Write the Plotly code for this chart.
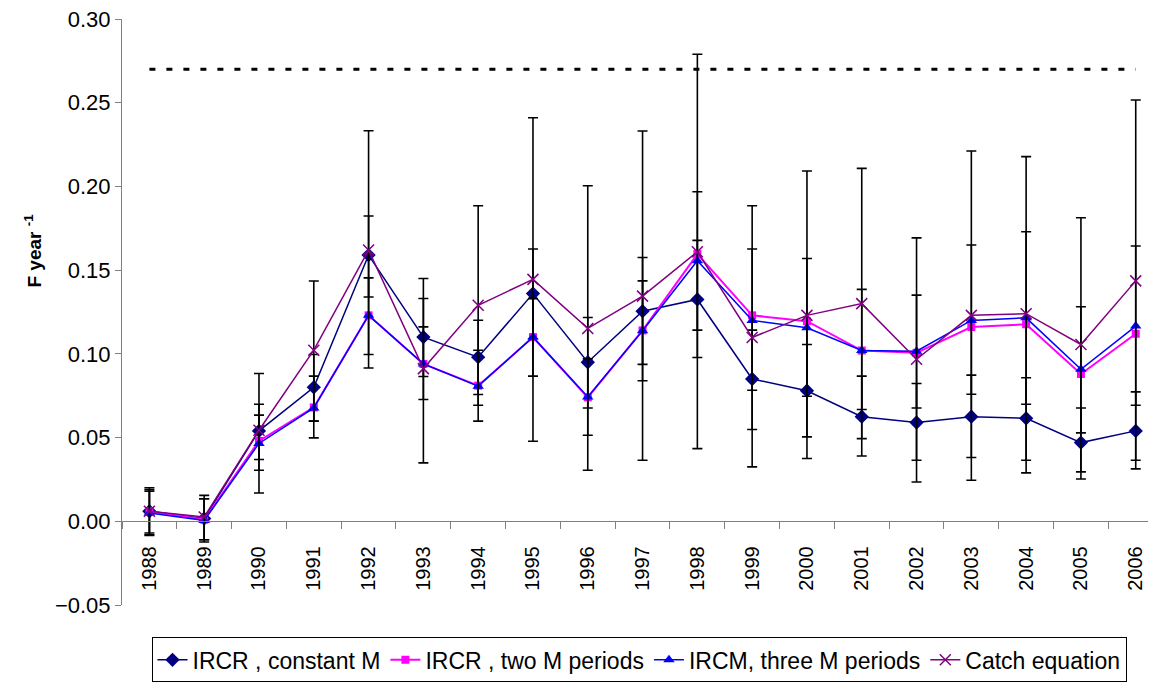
import numpy as np
import plotly.graph_objects as go

# years on the x axis (category axis)
years = [str(y) for y in range(1988, 2007)]

# F estimates for the four methods
f_const = [0.006, 0.0016, 0.054, 0.080, 0.159, 0.110, 0.098, 0.136, 0.095, 0.1255,
           0.1325, 0.085, 0.078, 0.0625, 0.059, 0.0625, 0.0615, 0.047, 0.054]
f_two = [0.006, 0.001, 0.048, 0.068, 0.123, 0.094, 0.081, 0.110, 0.074, 0.114,
         0.1596, 0.123, 0.1195, 0.102, 0.1006, 0.116, 0.1177, 0.088, 0.112]
f_three = [0.005, 0.0005, 0.0465, 0.0677, 0.123, 0.094, 0.0807, 0.110, 0.0743, 0.1138,
           0.1556, 0.120, 0.1156, 0.102, 0.1016, 0.120, 0.1215, 0.0908, 0.1166]
f_catch = [0.006, 0.0026, 0.0544, 0.1022, 0.162, 0.0912, 0.129, 0.1445, 0.1152, 0.1345,
           0.161, 0.1098, 0.123, 0.130, 0.0968, 0.123, 0.124, 0.1056, 0.1436]

# confidence limits (upper / lower)
hi_const = [0.019, 0.0135, 0.0699, 0.0996, 0.1823, 0.1331, 0.1201, 0.1626, 0.1217, 0.1576,
            0.1678, 0.1142, 0.1056, 0.0867, 0.0823, 0.0873, 0.0857, 0.0677, 0.0773]
lo_const = [-0.008, -0.011, 0.0369, 0.0598, 0.134, 0.0865, 0.0757, 0.109, 0.0677, 0.0937,
            0.0978, 0.0548, 0.0504, 0.039, 0.0365, 0.0381, 0.0365, 0.0253, 0.0313]
hi_three = [0.018, 0.0135, 0.0634, 0.0867, 0.1454, 0.1161, 0.1022, 0.133, 0.097, 0.1436,
            0.1968, 0.1626, 0.157, 0.1385, 0.1351, 0.165, 0.1729, 0.1281, 0.1644]
lo_three = [-0.007, -0.0124, 0.0305, 0.0498, 0.0996, 0.0727, 0.0598, 0.0867, 0.0514, 0.0839,
            0.1142, 0.0783, 0.0747, 0.0668, 0.0677, 0.0759, 0.0699, 0.0528, 0.0693]
hi_catch = [0.020, 0.0155, 0.0883, 0.1435, 0.2333, 0.145, 0.1885, 0.241, 0.2004, 0.2331,
            0.279, 0.1885, 0.2092, 0.2108, 0.1693, 0.2212, 0.2178, 0.1813, 0.2516]
lo_catch = [-0.0084, -0.011, 0.0169, 0.0598, 0.0916, 0.0349, 0.0693, 0.0478, 0.0305, 0.0365,
            0.0434, 0.0325, 0.0375, 0.0494, 0.0235, 0.0245, 0.0289, 0.0295, 0.0365]

ref_f = 0.27  # dotted reference level

FONT = "Liberation Sans, Arial, sans-serif"


def err(v, hi, lo):
    v, hi, lo = np.array(v), np.array(hi), np.array(lo)
    return dict(type='data', symmetric=False, array=hi - v, arrayminus=v - lo,
                color='black', thickness=1.6, width=5)


fig = go.Figure()

fig.add_trace(go.Scatter(
    x=years, y=f_const, name='IRCR , constant M', mode='lines+markers',
    line=dict(color='#000080', width=1.5),
    marker=dict(symbol='diamond', size=11, color='#000080'),
    error_y=err(f_const, hi_const, lo_const),
))
fig.add_trace(go.Scatter(
    x=years, y=f_two, name='IRCR , two M periods', mode='lines+markers',
    line=dict(color='#FF00FF', width=2),
    marker=dict(symbol='square', size=8, color='#FF00FF'),
))
fig.add_trace(go.Scatter(
    x=years, y=f_three, name='IRCM, three M periods', mode='lines+markers',
    line=dict(color='#0000FF', width=1.5),
    marker=dict(symbol='triangle-up', size=10, color='#0000FF'),
    error_y=err(f_three, hi_three, lo_three),
))
fig.add_trace(go.Scatter(
    x=years, y=f_catch, name='Catch equation', mode='lines+markers',
    line=dict(color='#800080', width=1.5),
    marker=dict(symbol='x-thin-open', size=11, color='#800080',
                line=dict(color='#800080', width=1.5)),
    error_y=err(f_catch, hi_catch, lo_catch),
))
fig.add_trace(go.Scatter(
    x=[years[0], years[-1]], y=[ref_f, ref_f], mode='lines', showlegend=False,
    line=dict(color='black', width=3, dash='6px,11px'),
    hoverinfo='skip',
))

# page body has an 8px margin, so the figure is drawn 8px smaller
fig.update_layout(
    width=1148, height=675,
    margin=dict(l=114, r=0, t=11, b=78),
    plot_bgcolor='white', paper_bgcolor='white',
    font=dict(family=FONT, color='black'),
    legend=dict(
        orientation='h', x=0.5, xanchor='center', y=-0.132, yanchor='bottom',
        bordercolor='black', borderwidth=1, font=dict(size=23),
        itemwidth=30,
    ),
    annotations=[dict(
        text='<b>F year <sup>-1</sup></b>', textangle=-90, font=dict(size=19),
        xref='paper', yref='paper', x=-0.086, y=0.605,
        xanchor='center', yanchor='middle', showarrow=False,
    )],
)
fig.update_xaxes(
    type='category', range=[-0.5, 18.37],
    anchor='free', position=1 / 7,
    showline=True, linecolor='#808080', linewidth=1,
    ticks='outside', ticklen=7, tickcolor='#808080', tickson='boundaries',
    tickangle=-90, tickfont=dict(size=20), ticklabelstandoff=16, showgrid=False,
)
fig.update_yaxes(
    range=[-0.05, 0.30001], tickvals=[-0.05, 0, 0.05, 0.10, 0.15, 0.20, 0.25, 0.30],
    tickformat='.2f', ticklabeloverflow='allow',
    showline=True, linecolor='#808080', linewidth=1,
    ticks='outside', ticklen=6, tickcolor='#808080',
    tickfont=dict(size=22), showgrid=False, zeroline=False,
)

fig.write_html("out.html")
